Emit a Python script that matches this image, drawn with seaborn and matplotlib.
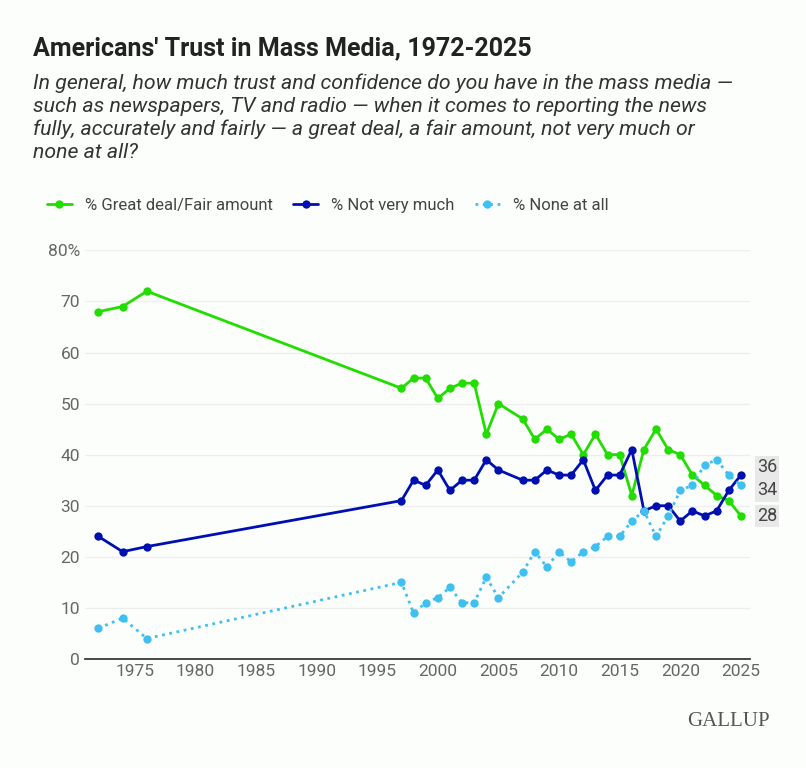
import matplotlib
matplotlib.use("Agg")
import matplotlib.pyplot as plt
import seaborn as sns
import pandas as pd

years = [1972,1974,1976,1997,1998,1999,2000,2001,2002,2003,2004,2005,2007,2008,2009,2010,2011,2012,2013,2014,2015,2016,2017,2018,2019,2020,2021,2022,2023,2024,2025]
great_fair = [68,69,72,53,55,55,51,53,54,54,44,50,47,43,45,43,44,40,44,40,40,32,41,45,41,40,36,34,32,31,28]
not_very = [24,21,22,31,35,34,37,33,35,35,39,37,35,35,37,36,36,39,33,36,36,41,29,30,30,27,29,28,29,33,36]
none_all = [6,8,4,15,9,11,12,14,11,11,16,12,17,21,18,21,19,21,22,24,24,27,29,24,28,33,34,38,39,36,34]
series_names = ["% Great deal/Fair amount", "% Not very much", "% None at all"]
colors = ["#22dd00", "#0010b0", "#40c0f0"]

sns.set_theme(style="white")
plt.rcParams['font.family'] = ['Roboto', 'DejaVu Sans']

fig = plt.figure(figsize=(8.06, 7.68), dpi=100)
fig.patch.set_facecolor("#fcfefc")
ax = fig.add_axes([85/806, 0.142, 665/806, 0.532])
ax.set_facecolor("#fcfefc")

df = pd.DataFrame({"year": years * 3,
                   "value": great_fair + not_very + none_all,
                   "series": sum([[n] * len(years) for n in series_names], [])})
styles = ["-", "-", ":"]
for name, c, ls in zip(series_names, colors, styles):
    sub = df[df.series == name]
    sns.lineplot(data=sub, x="year", y="value", ax=ax, color=c, linestyle=ls,
                 linewidth=2, marker="o", markersize=6, markeredgewidth=0, label=name)

ax.set_xlim(1970.9, 2025.75)
ax.set_ylim(0, 80)
ax.set_yticks(range(0, 81, 10))
ax.set_yticklabels([str(v) for v in range(0, 80, 10)] + ["80%"])
ax.set_xticks(range(1975, 2026, 5))
ax.tick_params(axis="both", colors="#666666", labelsize=12.5, length=0)
ax.grid(axis="y", color="#eeeeee", linewidth=1)
for s in ["top", "right", "left"]:
    ax.spines[s].set_visible(False)
ax.spines["bottom"].set_color("#333333")
ax.set_xlabel("")
ax.set_ylabel("")

for vals, off in [(not_very, 1.5), (none_all, -1.0), (great_fair, 0)]:
    ax.text(2026.3, vals[-1] + off, str(vals[-1]), fontsize=13, color="#444444",
            va="center", ha="left", clip_on=False,
            bbox=dict(facecolor="#e8e8e8", edgecolor="none", pad=1.5))

ax.legend(loc="lower left", bbox_to_anchor=(-0.08, 1.055), ncol=3, frameon=False,
          fontsize=12, handlelength=1.5, columnspacing=1.2, labelcolor="#444444")

fig.text(33/806, 1 - 48/768, "Americans' Trust in Mass Media, 1972-2025",
         fontsize=18, fontweight="bold", color="#222222", va="center")
fig.text(33/806, 1 - 118/768,
         "In general, how much trust and confidence do you have in the mass media \u2014\n"
         "such as newspapers, TV and radio \u2014 when it comes to reporting the news\n"
         "fully, accurately and fairly \u2014 a great deal, a fair amount, not very much or\n"
         "none at all?",
         fontsize=15.3, style="italic", color="#333333", va="center", linespacing=1.25)
fig.text(770/806, 1 - 722/768, "GALLUP", fontsize=15, color="#555555",
         family="Liberation Serif", ha="right", va="center")

fig.savefig("out.png", dpi=100, facecolor=fig.get_facecolor())
